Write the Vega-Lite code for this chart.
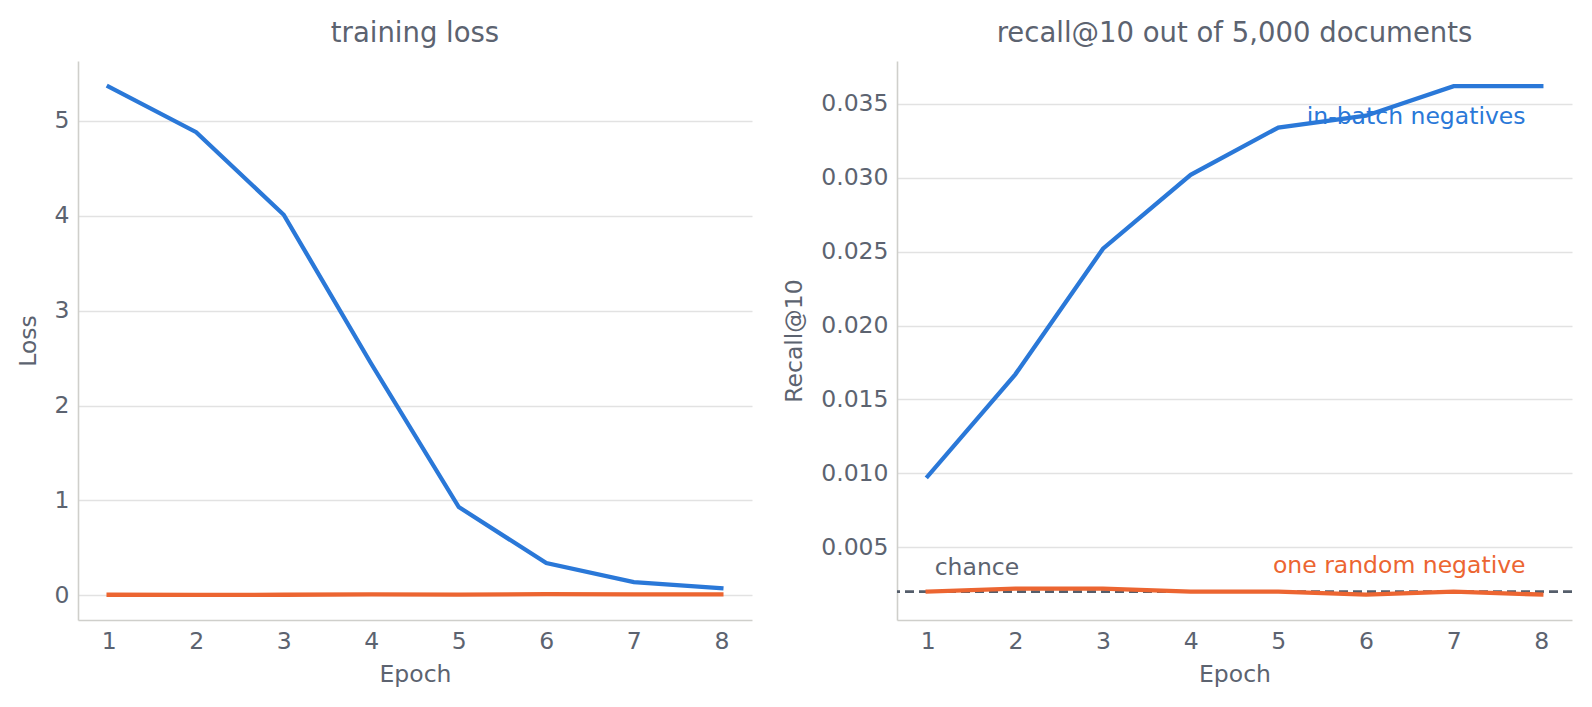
{
  "$schema": "https://vega.github.io/schema/vega-lite/v6.json",
  "background": "white",
  "padding": {"left": 16, "top": 19, "right": 0, "bottom": 10},
  "config": {
    "view": {"stroke": null},
    "font": "DejaVu Sans",
    "title": {"font": "DejaVu Sans", "fontSize": 27.5, "fontWeight": "normal", "color": "#5c6370", "offset": 14},
    "axis": {
      "labelFont": "DejaVu Sans", "labelFontSize": 23.5, "labelColor": "#5c6370",
      "titleFont": "DejaVu Sans", "titleFontSize": 23.5, "titleFontWeight": "normal", "titleColor": "#5c6370",
      "ticks": false, "domainColor": "#cfcfcb", "domainWidth": 1.6,
      "gridColor": "#e2e2e2", "gridWidth": 1.5, "labelPadding": 9
    }
  },
  "datasets": {
    "runs": [
      {"panel": "loss", "epoch": 1, "series": "in-batch negatives", "value": 5.36},
      {"panel": "loss", "epoch": 2, "series": "in-batch negatives", "value": 4.88},
      {"panel": "loss", "epoch": 3, "series": "in-batch negatives", "value": 4.01},
      {"panel": "loss", "epoch": 4, "series": "in-batch negatives", "value": 2.44},
      {"panel": "loss", "epoch": 5, "series": "in-batch negatives", "value": 0.93},
      {"panel": "loss", "epoch": 6, "series": "in-batch negatives", "value": 0.34},
      {"panel": "loss", "epoch": 7, "series": "in-batch negatives", "value": 0.14},
      {"panel": "loss", "epoch": 8, "series": "in-batch negatives", "value": 0.075},
      {"panel": "loss", "epoch": 1, "series": "one random negative", "value": 0.006},
      {"panel": "loss", "epoch": 2, "series": "one random negative", "value": 0.004},
      {"panel": "loss", "epoch": 3, "series": "one random negative", "value": 0.006},
      {"panel": "loss", "epoch": 4, "series": "one random negative", "value": 0.011},
      {"panel": "loss", "epoch": 5, "series": "one random negative", "value": 0.008},
      {"panel": "loss", "epoch": 6, "series": "one random negative", "value": 0.012},
      {"panel": "loss", "epoch": 7, "series": "one random negative", "value": 0.010},
      {"panel": "loss", "epoch": 8, "series": "one random negative", "value": 0.010},
      {"panel": "recall", "epoch": 1, "series": "in-batch negatives", "value": 0.0098},
      {"panel": "recall", "epoch": 2, "series": "in-batch negatives", "value": 0.0167},
      {"panel": "recall", "epoch": 3, "series": "in-batch negatives", "value": 0.0252},
      {"panel": "recall", "epoch": 4, "series": "in-batch negatives", "value": 0.0302},
      {"panel": "recall", "epoch": 5, "series": "in-batch negatives", "value": 0.0334},
      {"panel": "recall", "epoch": 6, "series": "in-batch negatives", "value": 0.0342},
      {"panel": "recall", "epoch": 7, "series": "in-batch negatives", "value": 0.0362},
      {"panel": "recall", "epoch": 8, "series": "in-batch negatives", "value": 0.0362},
      {"panel": "recall", "epoch": 1, "series": "one random negative", "value": 0.0020},
      {"panel": "recall", "epoch": 2, "series": "one random negative", "value": 0.0022},
      {"panel": "recall", "epoch": 3, "series": "one random negative", "value": 0.0022},
      {"panel": "recall", "epoch": 4, "series": "one random negative", "value": 0.0020},
      {"panel": "recall", "epoch": 5, "series": "one random negative", "value": 0.0020},
      {"panel": "recall", "epoch": 6, "series": "one random negative", "value": 0.0018},
      {"panel": "recall", "epoch": 7, "series": "one random negative", "value": 0.0020},
      {"panel": "recall", "epoch": 8, "series": "one random negative", "value": 0.0018}
    ],
    "notes": [
      {"epoch": 7.82, "value": 0.0341, "label": "in-batch negatives", "series": "in-batch negatives"},
      {"epoch": 7.82, "value": 0.00376, "label": "one random negative", "series": "one random negative"},
      {"epoch": 1.08, "value": 0.00362, "label": "chance", "series": "chance"}
    ],
    "chance": [{"value": 0.002}]
  },
  "hconcat": [
    {
      "width": 674,
      "height": 559,
      "title": "training loss",
      "data": {"name": "runs"},
      "transform": [{"filter": "datum.panel === 'loss'"}],
      "mark": {"type": "line", "strokeWidth": 4.3, "strokeCap": "square"},
      "encoding": {
        "x": {"field": "epoch", "type": "quantitative", "scale": {"domain": [0.65, 8.35], "nice": false, "zero": false},
              "axis": {"values": [1, 2, 3, 4, 5, 6, 7, 8], "grid": false, "title": "Epoch", "titlePadding": 10}},
        "y": {"field": "value", "type": "quantitative", "scale": {"domain": [-0.26, 5.63], "nice": false, "zero": false},
              "axis": {"values": [0, 1, 2, 3, 4, 5], "title": "Loss", "titlePadding": 14}},
        "color": {"field": "series", "type": "nominal", "legend": null,
                  "scale": {"domain": ["in-batch negatives", "one random negative"], "range": ["#2a78d8", "#ec6531"]}}
      }
    },
    {
      "width": 675,
      "height": 559,
      "title": "recall@10 out of 5,000 documents",
      "encoding": {
        "x": {"field": "epoch", "type": "quantitative", "scale": {"domain": [0.65, 8.35], "nice": false, "zero": false},
              "axis": {"values": [1, 2, 3, 4, 5, 6, 7, 8], "grid": false, "title": "Epoch", "titlePadding": 10}},
        "y": {"field": "value", "type": "quantitative", "scale": {"domain": [0.00008, 0.0379], "nice": false, "zero": false},
              "axis": {"values": [0.005, 0.01, 0.015, 0.02, 0.025, 0.03, 0.035], "format": ".3f", "title": "Recall@10", "titlePadding": 14}}
      },
      "layer": [
        {
          "data": {"name": "notes"},
          "transform": [{"filter": "datum.series !== 'chance'"}],
          "mark": {"type": "text", "fontSize": 23.5, "baseline": "middle", "align": "right"},
          "encoding": {
            "text": {"field": "label"},
            "color": {"field": "series", "type": "nominal", "legend": null}
          }
        },
        {
          "data": {"name": "notes"},
          "transform": [{"filter": "datum.series === 'chance'"}],
          "mark": {"type": "text", "fontSize": 23.5, "baseline": "middle", "align": "left", "color": "#5c6370"},
          "encoding": {
            "text": {"field": "label"}
          }
        },
        {
          "data": {"name": "chance"},
          "mark": {"type": "rule", "color": "#555e6b", "strokeWidth": 2.6, "strokeDash": [9, 5]},
          "encoding": {"y": {"field": "value", "type": "quantitative"}, "x": null}
        },
        {
          "data": {"name": "runs"},
          "transform": [{"filter": "datum.panel === 'recall'"}],
          "mark": {"type": "line", "strokeWidth": 4.3, "strokeCap": "square"},
          "encoding": {
            "color": {"field": "series", "type": "nominal", "legend": null}
          }
        }
      ]
    }
  ],
  "spacing": 30
}
